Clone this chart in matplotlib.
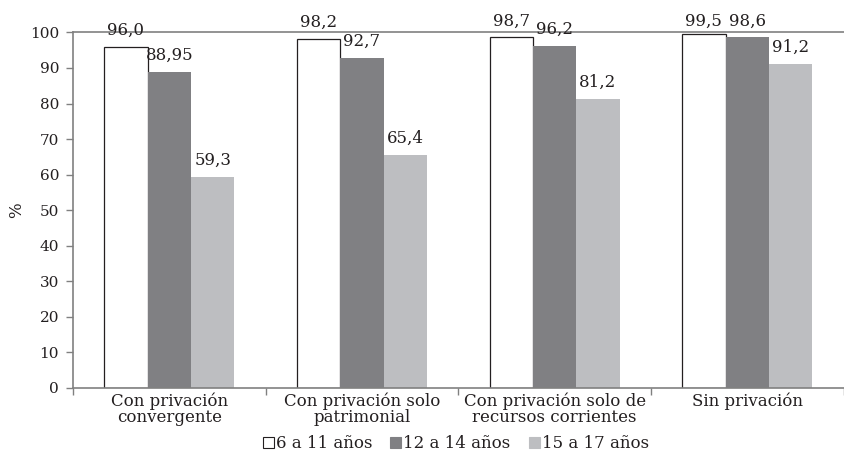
import numpy as np
import matplotlib
matplotlib.use("Agg")
import matplotlib.pyplot as plt
from matplotlib.patches import Patch

plt.rcParams["font.family"] = ["DejaVu Serif"]
plt.rcParams["font.size"] = 12

categorias = [
    "Con privación\nconvergente",
    "Con privación solo\npatrimonial",
    "Con privación solo de\nrecursos corrientes",
    "Sin privación",
]
series = ["6 a 11 años", "12 a 14 años", "15 a 17 años"]
valores_6_11 = [96.0, 98.2, 98.7, 99.5]
valores_12_14 = [88.95, 92.7, 96.2, 98.6]
valores_15_17 = [59.3, 65.4, 81.2, 91.2]
etiquetas_6_11 = ["96,0", "98,2", "98,7", "99,5"]
etiquetas_12_14 = ["88,95", "92,7", "96,2", "98,6"]
etiquetas_15_17 = ["59,3", "65,4", "81,2", "91,2"]

colores = ["white", "#808083", "#bdbec1"]
bordes = ["#231f20", "none", "none"]
texto = "#231f20"
gris_eje = "#808080"

fig = plt.figure(figsize=(8.44, 4.63), dpi=100)
ax = fig.add_axes([0.0865, 0.162, 0.913, 0.768])

x = np.arange(len(categorias))
ancho = 0.225
datos = [valores_6_11, valores_12_14, valores_15_17]
etiquetas = [etiquetas_6_11, etiquetas_12_14, etiquetas_15_17]

for i, (vals, labs) in enumerate(zip(datos, etiquetas)):
    pos = x + (i - 1) * ancho
    ax.bar(pos, vals, width=ancho, color=colores[i], edgecolor=bordes[i],
           linewidth=0.9 if i == 0 else 0, zorder=2)
    for px, v, t in zip(pos, vals, labs):
        # las etiquetas que no caben bajo el borde superior se alinean arriba
        y = min(v + 4.7, 103.2)
        ax.text(px, y, t, ha="center", va="center", color=texto,
                fontsize=12, clip_on=False)

ax.set_ylim(0, 100)
ax.set_xlim(-0.5, len(categorias) - 0.5)
ax.set_yticks(np.arange(0, 101, 10))
ax.set_ylabel("%", color=texto, fontsize=12)
ax.yaxis.set_label_coords(-0.062, 0.5)

ax.set_xticks(x)
ax.set_xticklabels(categorias, color=texto, linespacing=0.95, fontsize=12)
ax.set_xticks(np.arange(-0.5, len(categorias), 1.0), minor=True)
ax.tick_params(axis="x", which="major", length=0, pad=3)
ax.tick_params(axis="x", which="minor", length=5, color=gris_eje, width=1)
ax.tick_params(axis="y", length=5, color=gris_eje, width=1, labelcolor=texto,
               labelsize=11, pad=5)

for lado in ["left", "bottom", "top"]:
    ax.spines[lado].set_color(gris_eje)
    ax.spines[lado].set_linewidth(1.2)
ax.spines["right"].set_visible(False)

manejadores = [Patch(facecolor=c, edgecolor=("#231f20" if c == "white" else c), linewidth=0.8)
               for c in colores]
fig.legend(manejadores, series, loc="center", bbox_to_anchor=(0.54, 0.042),
           ncol=3, frameon=False, handlelength=0.65, handleheight=0.65,
           handletextpad=0.12, columnspacing=1.1, fontsize=12,
           labelcolor=texto, borderpad=0)

fig.savefig("out.png", dpi=100)
